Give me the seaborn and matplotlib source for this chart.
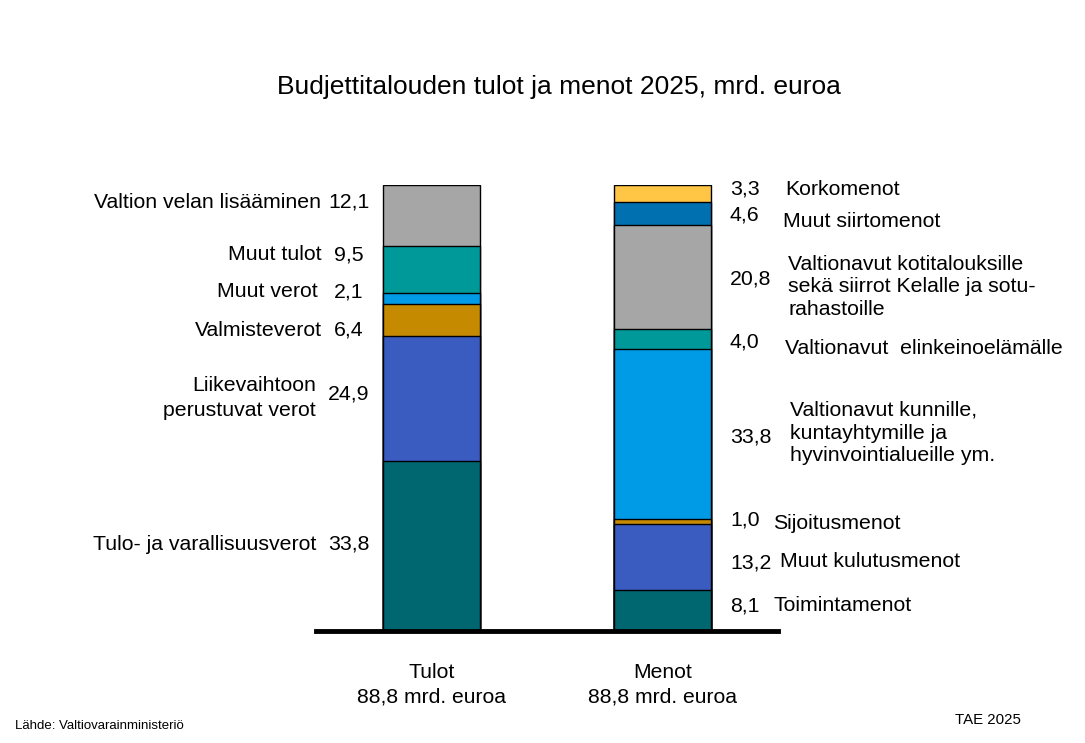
import matplotlib
matplotlib.use('Agg')
import matplotlib.pyplot as plt
import seaborn as sns

groups = ['Tulot', 'Menot']
group_labels = ['Tulot\n88,8 mrd. euroa', 'Menot\n88,8 mrd. euroa']

# bottom -> top
tulot_names = ['Tulo- ja varallisuusverot', 'Liikevaihtoon\nperustuvat verot', 'Valmisteverot',
               'Muut verot', 'Muut tulot', 'Valtion velan lisääminen']
tulot_values = [33.8, 24.9, 6.4, 2.1, 9.5, 12.1]
tulot_colors = ['#006670', '#3A5BC0', '#C58A00', '#009BE6', '#009999', '#A6A6A6']

menot_names = ['Toimintamenot', 'Muut kulutusmenot', 'Sijoitusmenot',
               'Valtionavut kunnille,\nkuntayhtymille ja\nhyvinvointialueille ym.',
               'Valtionavut  elinkeinoelämälle',
               'Valtionavut kotitalouksille\nsekä siirrot Kelalle ja sotu-\nrahastoille',
               'Muut siirtomenot', 'Korkomenot']
menot_values = [8.1, 13.2, 1.0, 33.8, 4.0, 20.8, 4.6, 3.3]
menot_colors = ['#006670', '#3A5BC0', '#C58A00', '#009BE6', '#009999', '#A6A6A6', '#0070B0', '#FFC545']

# label layout (data units / pixels)
tulot_name_y = [17.3, 46.4, 59.9, 67.5, 74.9, 85.4]
tulot_value_y = [17.3, 47.2, 59.9, 67.5, 74.9, 85.4]
tulot_name_px = [316, 316, 322, 318, 322, 321]
menot_name_y = [5.0, 13.9, 21.5, 39.4, 56.3, 68.5, 81.6, 88.0]
menot_value_y = [5.0, 13.5, 22.1, 38.6, 57.5, 70.1, 82.8, 88.0]
menot_name_px = [773, 780, 773, 790, 785, 788, 783, 785]

sns.set_style('white')
plt.rcParams['font.family'] = ['Liberation Sans', 'DejaVu Sans']
plt.rcParams['text.color'] = 'black'
plt.rcParams['xtick.color'] = 'black'

fig = plt.figure(figsize=(10.85, 7.43), dpi=100)
ax = fig.add_axes([316 / 1085, 112 / 743, 462 / 1085, 446 / 743])


def px2x(px):
    return (px - 431.5) / 231.0


def fmt(v):
    return f'{v:.1f}'.replace('.', ',')


for g, vals, cols in [('Tulot', tulot_values, tulot_colors), ('Menot', menot_values, menot_colors)]:
    cum = []
    s = 0
    for v in vals:
        s += v
        cum.append(s)
    # draw from the top layer down so the stacks show
    for c, col in reversed(list(zip(cum, cols))):
        sns.barplot(x=[g], y=[c], order=groups, color=col, saturation=1, width=0.42,
                    edgecolor='black', linewidth=1, ax=ax)

ax.set_xlim(-0.5, 1.5)
ax.set_ylim(0, 88.8)
for sp in ['left', 'right', 'top']:
    ax.spines[sp].set_visible(False)
ax.spines['bottom'].set_linewidth(3.5)
ax.spines['bottom'].set_color('black')
ax.set_yticks([])
ax.set_xticks([0, 1])
ax.set_xticklabels(group_labels, fontsize=15.2, linespacing=1.38)
ax.tick_params(axis='x', length=0, pad=23)
ax.set_xlabel('')
ax.set_ylabel('')

fs = 15.3
for name, v, ny, vy, nx in zip(tulot_names, tulot_values, tulot_name_y, tulot_value_y, tulot_name_px):
    ls = 1.35 if name.startswith('Liike') else 1.25
    ax.text(px2x(nx), ny, name, ha='right', va='center', fontsize=fs, linespacing=ls, clip_on=False)
    ax.text(px2x(349), vy, fmt(v), ha='center', va='center', fontsize=fs, clip_on=False)

for name, v, ny, vy, nx in zip(menot_names, menot_values, menot_name_y, menot_value_y, menot_name_px):
    ax.text(px2x(730), vy, fmt(v), ha='left', va='center', fontsize=fs, clip_on=False)
    ax.text(px2x(nx), ny, name, ha='left', va='center', fontsize=fs, linespacing=1.25, clip_on=False)

fig.text(559 / 1085, 1 - 87 / 743, 'Budjettitalouden tulot ja menot 2025, mrd. euroa',
         ha='center', va='center', fontsize=19)
fig.text(15 / 1085, 1 - 726 / 743, 'Lähde: Valtiovarainministeriö', ha='left', va='center', fontsize=9.5)
fig.text(1021 / 1085, 1 - 720 / 743, 'TAE 2025', ha='right', va='center', fontsize=10.8)

fig.savefig('out.png', dpi=100)
